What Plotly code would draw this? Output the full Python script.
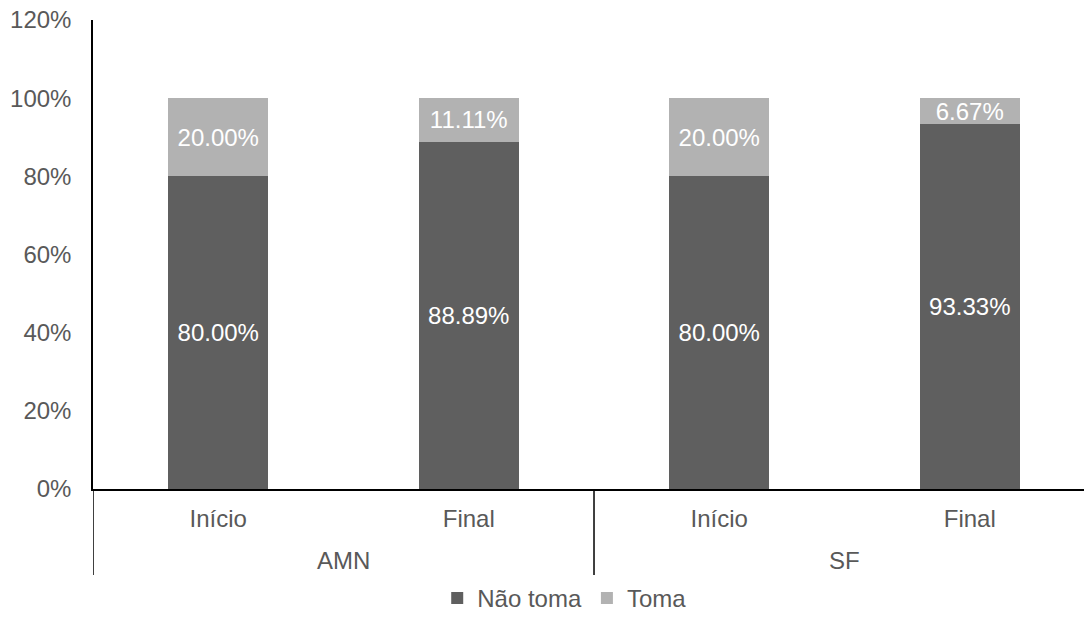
import plotly.graph_objects as go

groups = ["AMN", "AMN", "SF", "SF"]
phases = ["Início", "Final", "Início", "Final"]
nao_toma = [80.00, 88.89, 80.00, 93.33]
toma = [20.00, 11.11, 20.00, 6.67]
y_ticks = [0, 20, 40, 60, 80, 100, 120]
y_tick_labels = ["0%", "20%", "40%", "60%", "80%", "100%", "120%"]

FONT = "Liberation Sans, Arial, sans-serif"
GREY_TEXT = "#595959"
FS = 24

# numeric positions of the categories on the x axis
pos = list(range(len(phases)))

fig = go.Figure()
for name, vals, color in [("Não toma", nao_toma, "#5f5f5f"), ("Toma", toma, "#b2b2b2")]:
    fig.add_trace(go.Bar(
        name=name, x=pos, y=vals, width=0.4,
        marker=dict(color=color, line=dict(width=0)),
        texttemplate="%{y:.2f}%", textposition="inside",
        insidetextanchor="middle", constraintext="none",
        textfont=dict(color="white", size=FS, family=FONT),
    ))

# group labels centred under their categories, dividers at group boundaries
plot_h = 621 - 20 - 132
group_names = list(dict.fromkeys(groups))
boundaries = [-0.5]
for g in group_names:
    idx = [i for i, v in enumerate(groups) if v == g]
    fig.add_annotation(
        x=sum(idx) / len(idx), xref="x", y=-71 / plot_h, yref="paper",
        text=g, showarrow=False, yanchor="middle",
        font=dict(size=FS, color=GREY_TEXT, family=FONT),
    )
    boundaries.append(max(idx) + 0.5)
for b in boundaries:
    fig.add_shape(
        type="line", xref="x", yref="paper", x0=b, x1=b, y0=0, y1=-86 / plot_h,
        line=dict(color="black", width=1.5),
    )

fig.update_layout(
    width=1084, height=621,
    barmode="stack",
    plot_bgcolor="white", paper_bgcolor="white",
    margin=dict(l=93, r=0, t=20, b=132, autoexpand=False),
    font=dict(family=FONT, size=FS, color=GREY_TEXT),
    showlegend=True,
    legend=dict(
        orientation="h", x=0.476, xanchor="center",
        yref="container", y=0, yanchor="bottom",
        font=dict(size=FS, color=GREY_TEXT), traceorder="normal",
        itemwidth=30,
    ),
    xaxis=dict(
        range=[-0.5, 3.456],
        tickvals=pos, ticktext=phases,
        showline=True, linecolor="black", linewidth=1.5,
        ticks="", showgrid=False, zeroline=False, automargin=False,
        ticklabelstandoff=7,
        tickfont=dict(size=FS, color=GREY_TEXT, family=FONT),
    ),
    yaxis=dict(
        range=[0, 120], tickvals=y_ticks, ticktext=y_tick_labels,
        showline=True, linecolor="black", linewidth=1.5,
        ticks="", showgrid=False, zeroline=False, automargin=False,
        ticklabelstandoff=15,
        tickfont=dict(size=FS, color=GREY_TEXT, family=FONT),
    ),
)

fig.write_html("out.html")
